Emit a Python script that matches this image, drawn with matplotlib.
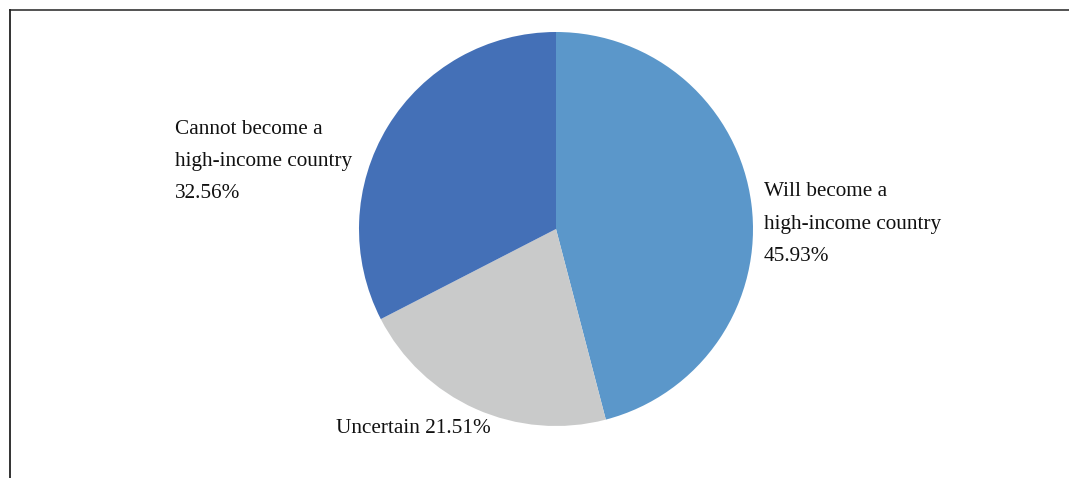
import matplotlib
matplotlib.use('Agg')
import matplotlib.pyplot as plt
from matplotlib.lines import Line2D

# survey shares, going clockwise from 12 o'clock
labels = ["Will become a\nhigh-income country", "Uncertain", "Cannot become a\nhigh-income country"]
shares = [45.93, 21.51, 32.56]
colors = ["#5B97CA", "#C9CACA", "#4470B7"]

W, H = 1069, 478
fig = plt.figure(figsize=(W / 100, H / 100), dpi=100)
fig.patch.set_facecolor("white")

# pie sits in a square axes, radius 197 px around (556, 229)
cx, cy, r = 556, 229, 197
ax = fig.add_axes([(cx - r) / W, (H - cy - r) / H, 2 * r / W, 2 * r / H])
ax.pie(shares, colors=colors, startangle=90, counterclock=False,
       wedgeprops={"linewidth": 0}, radius=1)
ax.set_xlim(-1, 1)
ax.set_ylim(-1, 1)
ax.set_aspect("equal")
ax.axis("off")

font = dict(family="Liberation Serif", fontsize=15.3, color="#111111",
            linespacing=1.95, va="center", ha="left", clip_on=False)

# label anchors (left edge, vertical middle) in pie radius units
spots = [(1.056, 0.025), (-1.117, -1.015), (-1.934, 0.342)]
for name, v, (x, y) in zip(labels, shares, spots):
    sep = "\n" if "\n" in name else " "
    ax.text(x, y, f"{name}{sep}{v:.2f}%", **font)

# frame border: only the top and left edges fall inside the image
fig.add_artist(Line2D([9.5 / W, 1], [1 - 9.5 / H, 1 - 9.5 / H],
                      transform=fig.transFigure, color="#444444", lw=1.3))
fig.add_artist(Line2D([9.5 / W, 9.5 / W], [0, 1 - 9.5 / H],
                      transform=fig.transFigure, color="#222222", lw=1.3))

fig.savefig("out.png", dpi=100)
